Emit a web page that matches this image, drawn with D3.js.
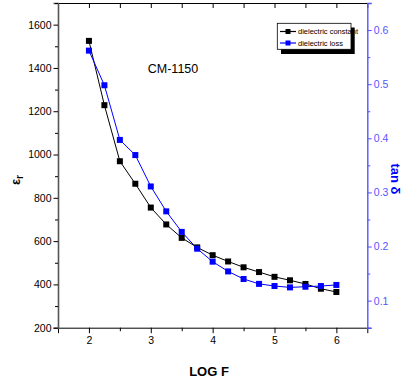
<!DOCTYPE html>
<html><head><meta charset="utf-8">
<script src="https://cdn.jsdelivr.net/npm/d3@7"></script>
<style>
html,body{margin:0;padding:0;background:#fff;}
svg{display:block;}
</style></head>
<body>
<svg id="c" width="404" height="383"></svg>
<script>
const logF = [2,2.25,2.5,2.75,3,3.25,3.5,3.75,4,4.25,4.5,4.75,5,5.25,5.5,5.75,6];
const dielectricConstant = [1525,1228,969,865,755,677,615,571,535,506,479,457,435,419,402,380,365];
const dielectricLoss = [0.562,0.498,0.397,0.369,0.311,0.265,0.227,0.196,0.172,0.154,0.140,0.131,0.127,0.1245,0.1257,0.127,0.129];
const xTicks = [2,3,4,5,6];
const leftTicks = [200,400,600,800,1000,1200,1400,1600];
const rightTicks = [0.1,0.2,0.3,0.4,0.5,0.6];
const seriesNames = ["dielectric constant","dielectric loss"];
const title = "CM-1150";

const svg = d3.select("#c");
const L=58, R=367.3, T=3, B=327.7;
const x = d3.scaleLinear().domain([1.5,6.5]).range([L,R]);
const yL = d3.scaleLinear().domain([200,1700]).range([B,T]);
const yR = d3.scaleLinear().domain([0.05,0.65]).range([B,T]);
const font = "'Liberation Sans Narrow','Liberation Sans',Arial,sans-serif";
const blue = "#0000ff";
const axisBlue = "#5555ff";

const g = svg.append("g");
g.append("g").attr("transform",`translate(0,${B})`)
  .call(d3.axisBottom(x).tickValues(xTicks).tickSize(5.5).tickPadding(3).tickFormat(d3.format("d")));
g.append("g").attr("transform",`translate(0,${B})`)
  .call(d3.axisBottom(x).tickValues([2.5,3.5,4.5,5.5]).tickSize(3.5).tickFormat(""))
  .call(s=>s.select(".domain").remove());
g.append("g").attr("transform",`translate(0,${T})`)
  .call(d3.axisTop(x).tickValues([2,2.5,3,3.5,4,4.5,5,5.5,6]).tickSize(-5).tickFormat(""));
g.append("g").attr("transform",`translate(${L},0)`)
  .call(d3.axisLeft(yL).tickValues(leftTicks).tickSize(4.5).tickPadding(2).tickFormat(d3.format("d")))
  .call(s=>s.select(".domain").attr("stroke","#555").attr("stroke-width",1.6));
g.append("g").attr("transform",`translate(${L},0)`)
  .call(d3.axisLeft(yL).tickValues([300,500,700,900,1100,1300,1500,1700]).tickSize(3).tickFormat(""))
  .call(s=>s.select(".domain").remove());
const ra = g.append("g").attr("transform",`translate(${R},0)`)
  .call(d3.axisRight(yR).tickValues(rightTicks).tickSize(4.5).tickPadding(2).tickFormat(d3.format(".1f")));
ra.select(".domain").attr("stroke",axisBlue).attr("stroke-width",1.4);
ra.selectAll(".tick line").attr("stroke",axisBlue);
const rm = g.append("g").attr("transform",`translate(${R},0)`)
  .call(d3.axisRight(yR).tickValues([0.05,0.15,0.25,0.35,0.45,0.55]).tickSize(3).tickFormat(""));
rm.select(".domain").remove();
rm.selectAll(".tick line").attr("stroke",axisBlue);

g.selectAll(".tick text").attr("font-family",font).attr("font-size",10.5);
ra.selectAll(".tick text").attr("fill",axisBlue);

const lineL = d3.line().x((d,i)=>x(logF[i])).y(d=>yL(d));
const lineR = d3.line().x((d,i)=>x(logF[i])).y(d=>yR(d));
svg.append("path").attr("d",lineL(dielectricConstant)).attr("fill","none").attr("stroke","#000").attr("stroke-width",1);
svg.append("path").attr("d",lineR(dielectricLoss)).attr("fill","none").attr("stroke",blue).attr("stroke-width",1);
const ms=6;
svg.append("g").selectAll("rect").data(dielectricConstant).join("rect")
  .attr("x",(d,i)=>x(logF[i])-ms/2).attr("y",d=>yL(d)-ms/2).attr("width",ms).attr("height",ms).attr("fill","#000");
svg.append("g").selectAll("rect").data(dielectricLoss).join("rect")
  .attr("x",(d,i)=>x(logF[i])-ms/2).attr("y",d=>yR(d)-ms/2).attr("width",ms).attr("height",ms).attr("fill",blue);

svg.append("text").attr("x",173).attr("y",72.5).attr("text-anchor","middle")
  .attr("font-family","'Liberation Sans',Arial,sans-serif").attr("font-size",12.5).text(title);

const lg = svg.append("g");
lg.append("rect").attr("x",281).attr("y",27.5).attr("width",73.7).attr("height",26.5).attr("fill","#000");
lg.append("rect").attr("x",277.3).attr("y",23.3).attr("width",73.7).attr("height",26).attr("fill","#fff").attr("stroke","#000").attr("stroke-width",0.8);
const lc=["#000",blue];
seriesNames.forEach((n,i)=>{
  const yy = 31.5 + i*11.5;
  lg.append("line").attr("x1",280).attr("x2",296).attr("y1",yy).attr("y2",yy).attr("stroke",lc[i]).attr("stroke-width",1.2);
  lg.append("rect").attr("x",285.5).attr("y",yy-2.5).attr("width",5).attr("height",5).attr("fill",lc[i]);
  lg.append("text").attr("x",298).attr("y",yy+2.5).attr("font-family",font).attr("font-size",7.5).text(n);
});

svg.append("text").attr("x",209).attr("y",376).attr("text-anchor","middle")
  .attr("font-family","'Liberation Sans',Arial,sans-serif").attr("font-weight","bold").attr("font-size",13).text("LOG F");
const el = svg.append("text").attr("transform","translate(20,180) rotate(-90)").attr("text-anchor","middle")
  .attr("font-family","'Liberation Sans',Arial,sans-serif").attr("font-weight","bold").attr("font-size",13);
el.append("tspan").text("ε");
el.append("tspan").attr("font-size",10).attr("dy",3).text("r");
svg.append("text").attr("transform","translate(391,179) rotate(90)").attr("text-anchor","middle")
  .attr("font-family","'Liberation Sans',Arial,sans-serif").attr("font-weight","bold").attr("font-size",13)
  .attr("fill",blue).text("tan δ");
</script>
</body></html>
